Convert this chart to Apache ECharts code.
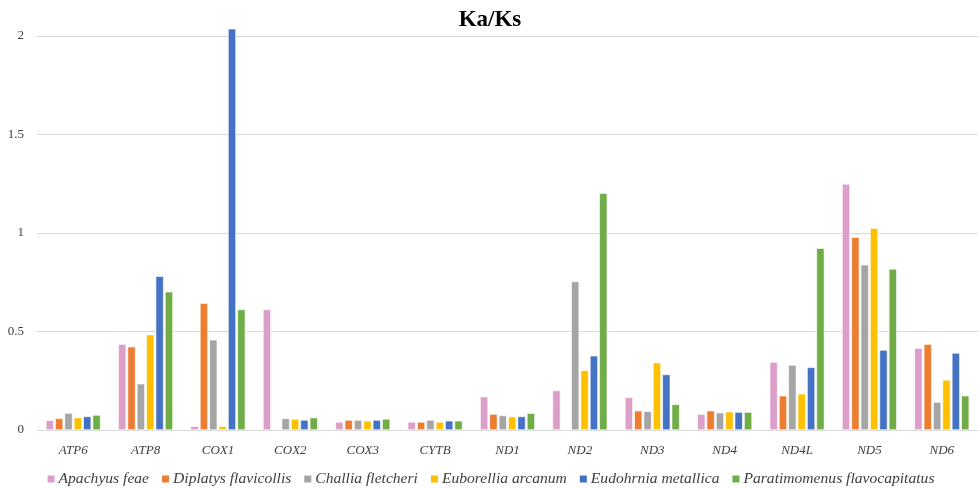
<!DOCTYPE html>
<html>
<head>
<meta charset="utf-8">
<script src="https://cdn.jsdelivr.net/npm/echarts@6/dist/echarts.min.js"></script>
<style>
  html, body { margin: 0; padding: 0; background: #fff; }
  #chart { width: 980px; height: 488px; }
</style>
</head>
<body>
<div id="chart"></div>
<script>
// Genes along the x axis
const genes = ['ATP6', 'ATP8', 'COX1', 'COX2', 'COX3', 'CYTB', 'ND1', 'ND2', 'ND3', 'ND4', 'ND4L', 'ND5', 'ND6'];

// Species names (legend order)
const speciesNames = ['Apachyus feae', 'Diplatys flavicollis', 'Challia fletcheri', 'Euborellia arcanum', 'Eudohrnia metallica', 'Paratimomenus flavocapitatus'];

// Ka/Ks ratios per species, one value per gene (null = not available)
const apachyusFeae = [0.049, 0.436, 0.019, 0.612, 0.041, 0.041, 0.169, 0.201, 0.166, 0.081, 0.345, 1.249, 0.416];
const diplatysFlavicollis = [0.059, 0.423, 0.644, null, 0.051, 0.041, 0.081, null, 0.098, 0.098, 0.174, 0.979, 0.436];
const challiaFletcheri = [0.086, 0.235, 0.458, 0.059, 0.051, 0.051, 0.074, 0.754, 0.095, 0.088, 0.330, 0.839, 0.142];
const euborelliaArcanum = [0.063, 0.484, 0.019, 0.056, 0.047, 0.041, 0.068, 0.303, 0.342, 0.093, 0.184, 1.025, 0.254];
const eudohrniaMetallica = [0.069, 0.781, 2.037, 0.051, 0.051, 0.047, 0.069, 0.377, 0.282, 0.091, 0.318, 0.406, 0.391];
const paratimomenusFlavocapitatus = [0.076, 0.702, 0.612, 0.063, 0.056, 0.047, 0.085, 1.202, 0.130, 0.091, 0.923, 0.818, 0.174];

// Y axis tick values
const yTicks = [0, 0.5, 1, 1.5, 2];

const seriesValues = [apachyusFeae, diplatysFlavicollis, challiaFletcheri, euborelliaArcanum, eudohrniaMetallica, paratimomenusFlavocapitatus];
const colors = ['#DC9FC9', '#ED7D31', '#A5A5A5', '#FFC000', '#4472C4', '#70AD47'];

const serif = '"Liberation Serif", "DejaVu Serif", serif';

const chart = echarts.init(document.getElementById('chart'), null, { renderer: 'canvas' });

chart.setOption({
  animation: false,
  backgroundColor: '#ffffff',
  color: colors,
  title: {
    text: 'Ka/Ks',
    left: 'center',
    top: 4,
    textStyle: { fontFamily: serif, fontSize: 23, fontWeight: 'bold', color: '#000' }
  },
  legend: {
    data: speciesNames,
    left: 'center',
    top: 466,
    itemWidth: 9,
    itemHeight: 9,
    itemGap: 11,
    icon: 'rect',
    textStyle: { fontFamily: serif, fontStyle: 'italic', fontSize: 15.6, color: '#404040', padding: [0, 0, 0, -2] }
  },
  grid: { left: 37, right: 2, top: 36, bottom: 58, containLabel: false },
  xAxis: {
    type: 'category',
    data: genes,
    axisTick: { show: false },
    axisLine: { lineStyle: { color: '#d9d9d9', width: 1 } },
    axisLabel: { fontFamily: serif, fontStyle: 'italic', fontSize: 13, color: '#404040', margin: 14 }
  },
  yAxis: {
    type: 'value',
    min: yTicks[0],
    max: yTicks[yTicks.length - 1],
    interval: yTicks[1] - yTicks[0],
    axisLine: { show: false },
    axisTick: { show: false },
    splitLine: { lineStyle: { color: '#d9d9d9', width: 1 } },
    axisLabel: { fontFamily: serif, fontSize: 13, color: '#404040', margin: 13 }
  },
  series: speciesNames.map((name, i) => ({
    name: name,
    type: 'bar',
    data: seriesValues[i],
    barWidth: 8,
    barGap: '17%',
    clip: false,
    itemStyle: { color: colors[i], borderColor: '#ffffff', borderWidth: 0.6 }
  }))
});
</script>
</body>
</html>
